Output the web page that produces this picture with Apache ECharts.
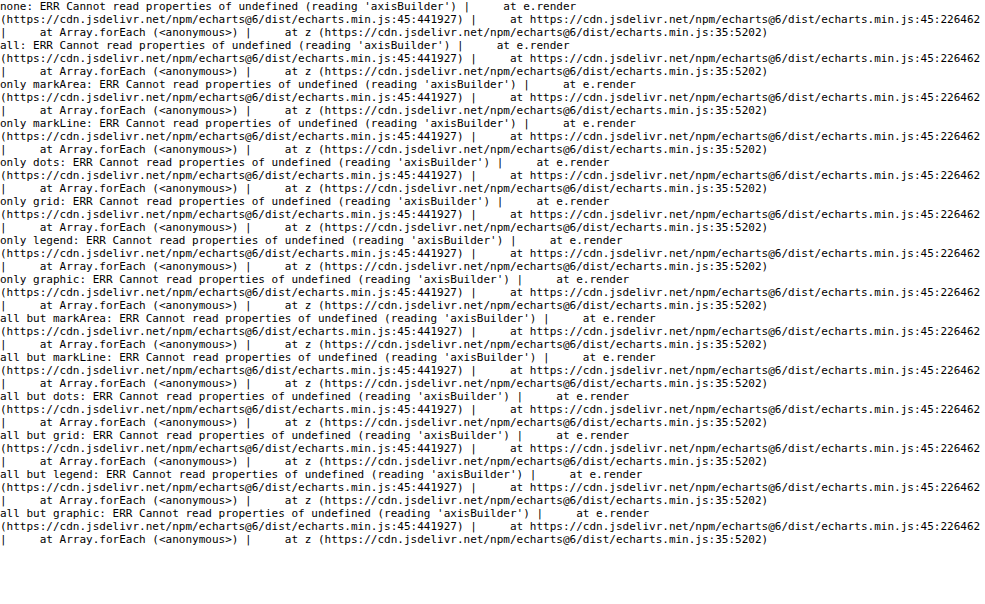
<!DOCTYPE html>
<html><head><meta charset="utf-8">
<script src="https://cdn.jsdelivr.net/npm/echarts@6/dist/echarts.min.js"></script>
<style>html,body{margin:0;padding:0;background:#fff}#err{position:absolute;left:0;top:0;font:11px monospace;white-space:pre-wrap;color:#000;width:985px}</style>
</head><body><div id="err"></div>
<script>
const out = [];
window.addEventListener('error', e => { out.push('ASYNC: ' + e.message + ' ' + (e.error && e.error.stack || '').split('\n').slice(0,4).join(' | ')); document.getElementById('err').textContent = out.join('\n'); });
const names = ['0.35', '0.65', '0.95', '1.70'];
const upEnergy = ['159', '173', '201', '292'];
const colors = ['#000000', '#ff0000', '#0000ff', '#ff00ff'];
const GREEN = '#008000';
const vA = [-0.7, -0.3, 0, 0.3, 0.7], rA = [1.5, 0.5, -0.4, -0.1, -0.05];
const FONT = '"Liberation Serif", "DejaVu Serif", serif';
const FS = 26;
const fmtV = v => (v < 0 ? '\u2212' : '') + Math.abs(v).toFixed(1);
function rich(color, fs) { fs = fs || FS; return { a: { fontFamily: FONT, fontSize: fs, color: color, lineHeight: fs }, i: { fontFamily: FONT, fontSize: fs, color: color, fontStyle: 'italic', lineHeight: fs }, s: { fontFamily: FONT, fontSize: Math.round(fs * 0.7), color: color, verticalAlign: 'top', lineHeight: Math.round(fs * 0.7) } }; }
const respName = '{a|Responsivity (V\u2009W}{s|\u22121}{a|)}';
function majorX(grid, lim, ticks, fmt, name, gap, margin) { return { type: 'value', gridIndex: grid, min: lim[0], max: lim[1], position: 'bottom', axisLine: { show: true, lineStyle: { color: '#000', width: 2 } }, axisTick: { show: true, customValues: ticks, length: 9, lineStyle: { color: '#000', width: 2 } }, axisLabel: { show: true, customValues: ticks, formatter: fmt, fontFamily: FONT, fontSize: FS, color: '#000', margin: margin }, splitLine: { show: false }, name: name, nameLocation: 'middle', nameGap: gap, nameTextStyle: { fontFamily: FONT, fontSize: FS, color: '#000' } }; }
function minorX(grid, lim, ticks) { return { type: 'value', gridIndex: grid, min: lim[0], max: lim[1], position: 'bottom', axisLine: { show: false }, axisTick: { show: true, customValues: ticks, length: 5, lineStyle: { color: '#000', width: 1.6 } }, axisLabel: { show: false }, splitLine: { show: false } }; }
function yAx(grid, lim, ticks, fmt, name, gap, pos, color, margin) { return { type: 'value', gridIndex: grid, min: lim[0], max: lim[1], position: pos, axisLine: { show: true, lineStyle: { color: color, width: 2 } }, axisTick: { show: true, customValues: ticks, length: 9, lineStyle: { color: color, width: 2 } }, axisLabel: { show: true, customValues: ticks, formatter: fmt, fontFamily: FONT, fontSize: FS, color: color, margin: margin }, splitLine: { show: false }, name: name, nameLocation: 'middle', nameGap: gap, nameRotate: 90, nameTextStyle: { fontFamily: FONT, fontSize: FS, color: color, rich: rich(color) } }; }
function line(name, xs, ys, color, xi, yi, width, extra) { return Object.assign({ type: 'line', name: name, xAxisIndex: xi, yAxisIndex: yi, data: xs.map((x, k) => [x, ys[k]]), showSymbol: false, symbol: 'none', lineStyle: { color: color, width: width, join: 'round', cap: 'round' }, itemStyle: { color: color }, z: 2 }, extra || {}); }
function build(f) {
  const limV = [-0.7, 0.7], limTL = [-0.594, 3.235], limBL = [-0.045, 1.04], limE = [133.07, 167.08], limRL = [-0.074, 2.882], limRR = [1.533, 4.638];
  const eA = [134, 150, 166];
  const series = [
    line(names[0], vA, rA, colors[0], 0, 0, 4, f.markArea ? { markArea: { silent: true, itemStyle: { color: '#bfbfbf' }, data: [[{ yAxis: 0 }, { yAxis: limTL[0] }]] } } : {}),
    line(names[3], vA, rA, colors[3], 0, 0, 4, f.markLine ? { markLine: { silent: true, symbol: 'none', label: { show: false }, animation: false, lineStyle: { color: '#1a1a1a', width: 3, type: [18, 5, 4, 5] }, data: [{ xAxis: -0.45 }] } } : {}),
    line(names[0], vA, [0, 0.5, 1, 1, 0.8], colors[0], 2, 1, 4),
    line('G0662 mesa', eA, [2, 4, 3], GREEN, 4, 3, 4, f.dots ? { lineStyle: { color: GREEN, width: 4, type: [4, 5], cap: 'butt' } } : {}),
    line(names[0], eA, [0.3, 1, 2], colors[0], 4, 2, 3.5)
  ];
  const o = {
    animation: false,
    grid: [{ left: 81.7, top: 30, width: 423.3, height: 326.7 }, { left: 81.7, top: 455, width: 423.3, height: 65 }, { left: 611.7, top: 30, width: 282.3, height: 489.3 }],
    xAxis: [majorX(0, limV, [-0.5, 0, 0.5], fmtV, 'Voltage (V)', 48, 17), minorX(0, limV, [-0.6, 0.1]), majorX(1, limV, [-0.5, 0, 0.5], fmtV, 'Voltage (V)', 46, 16), minorX(1, limV, [0.1]), majorX(2, limE, [135, 150, 165], v => String(Math.round(v)), 'Energy (meV)', 46, 16), minorX(2, limE, [140])],
    yAxis: [yAx(0, limTL, [0, 1, 2, 3], v => String(Math.round(v)), respName, 42, 'left', '#000', 18), yAx(1, limBL, [0, 1], v => String(Math.round(v)), '{a|d}{i|V}{a|/d}{i|I}{a| Norm.}', 42, 'left', '#000', 19), yAx(2, limRL, [0, 0.5, 1], v => v.toFixed(1), respName, 60, 'left', '#000', 18), yAx(3, limRR, [2, 3, 4], v => v.toFixed(1), respName, 62, 'right', GREEN, 20)],
    series: series
  };
  if (f.grid) o.grid.forEach(g => g.outerBoundsMode = 'none');
  if (f.legend) o.legend = { data: names, orient: 'vertical', left: 213, top: 86.3, padding: 0, z: 10, icon: 'rect', itemWidth: 49, itemHeight: 4, itemGap: 7.5, selectedMode: false, formatter: n => '{a|' + n + '\u2009\u00b5m}{s|\u22121}{a|; ' + upEnergy[names.indexOf(n)] + '\u2009meV}', textStyle: { fontFamily: FONT, fontSize: 23, color: '#000', lineHeight: 26, padding: [0, 0, 0, 10], rich: rich('#000', 23) } };
  if (f.graphic) o.graphic = [{ type: 'rect', z: 3, shape: { x: 206, y: 42.7, width: 289, height: 179, r: 5 }, style: { fill: 'rgba(255,255,255,0.8)', stroke: '#cccccc', lineWidth: 1.5 } }, { type: 'text', z: 11, x: 350, y: 65, style: { text: '{i|s}{s|\u22121}{a|; Est.}', rich: rich('#000', 23), align: 'center', verticalAlign: 'middle' } }, { type: 'text', z: 11, x: 363, y: 257, style: { text: 'Laser', fontFamily: FONT, fontSize: FS, fill: '#000', align: 'center', verticalAlign: 'middle' } }];
  return o;
}
function test(label, f) {
  const d = document.createElement('div');
  d.style.cssText = 'width:985px;height:604px;position:absolute;left:-2000px;top:0';
  document.body.appendChild(d);
  try { const c = echarts.init(d); c.setOption(build(f)); c.getZr().flush(); out.push(label + ': ok'); }
  catch (e) { out.push(label + ': ERR ' + e.message + ' | ' + (e.stack || '').split('\n').slice(1, 5).join(' | ')); }
}
const all = { markArea: 1, markLine: 1, dots: 1, grid: 1, legend: 1, graphic: 1 };
test('none', {});
test('all', all);
for (const k of Object.keys(all)) { const f = {}; f[k] = 1; test('only ' + k, f); }
for (const k of Object.keys(all)) { const f = Object.assign({}, all); delete f[k]; test('all but ' + k, f); }
document.getElementById('err').textContent = out.join('\n');
</script></body></html>
